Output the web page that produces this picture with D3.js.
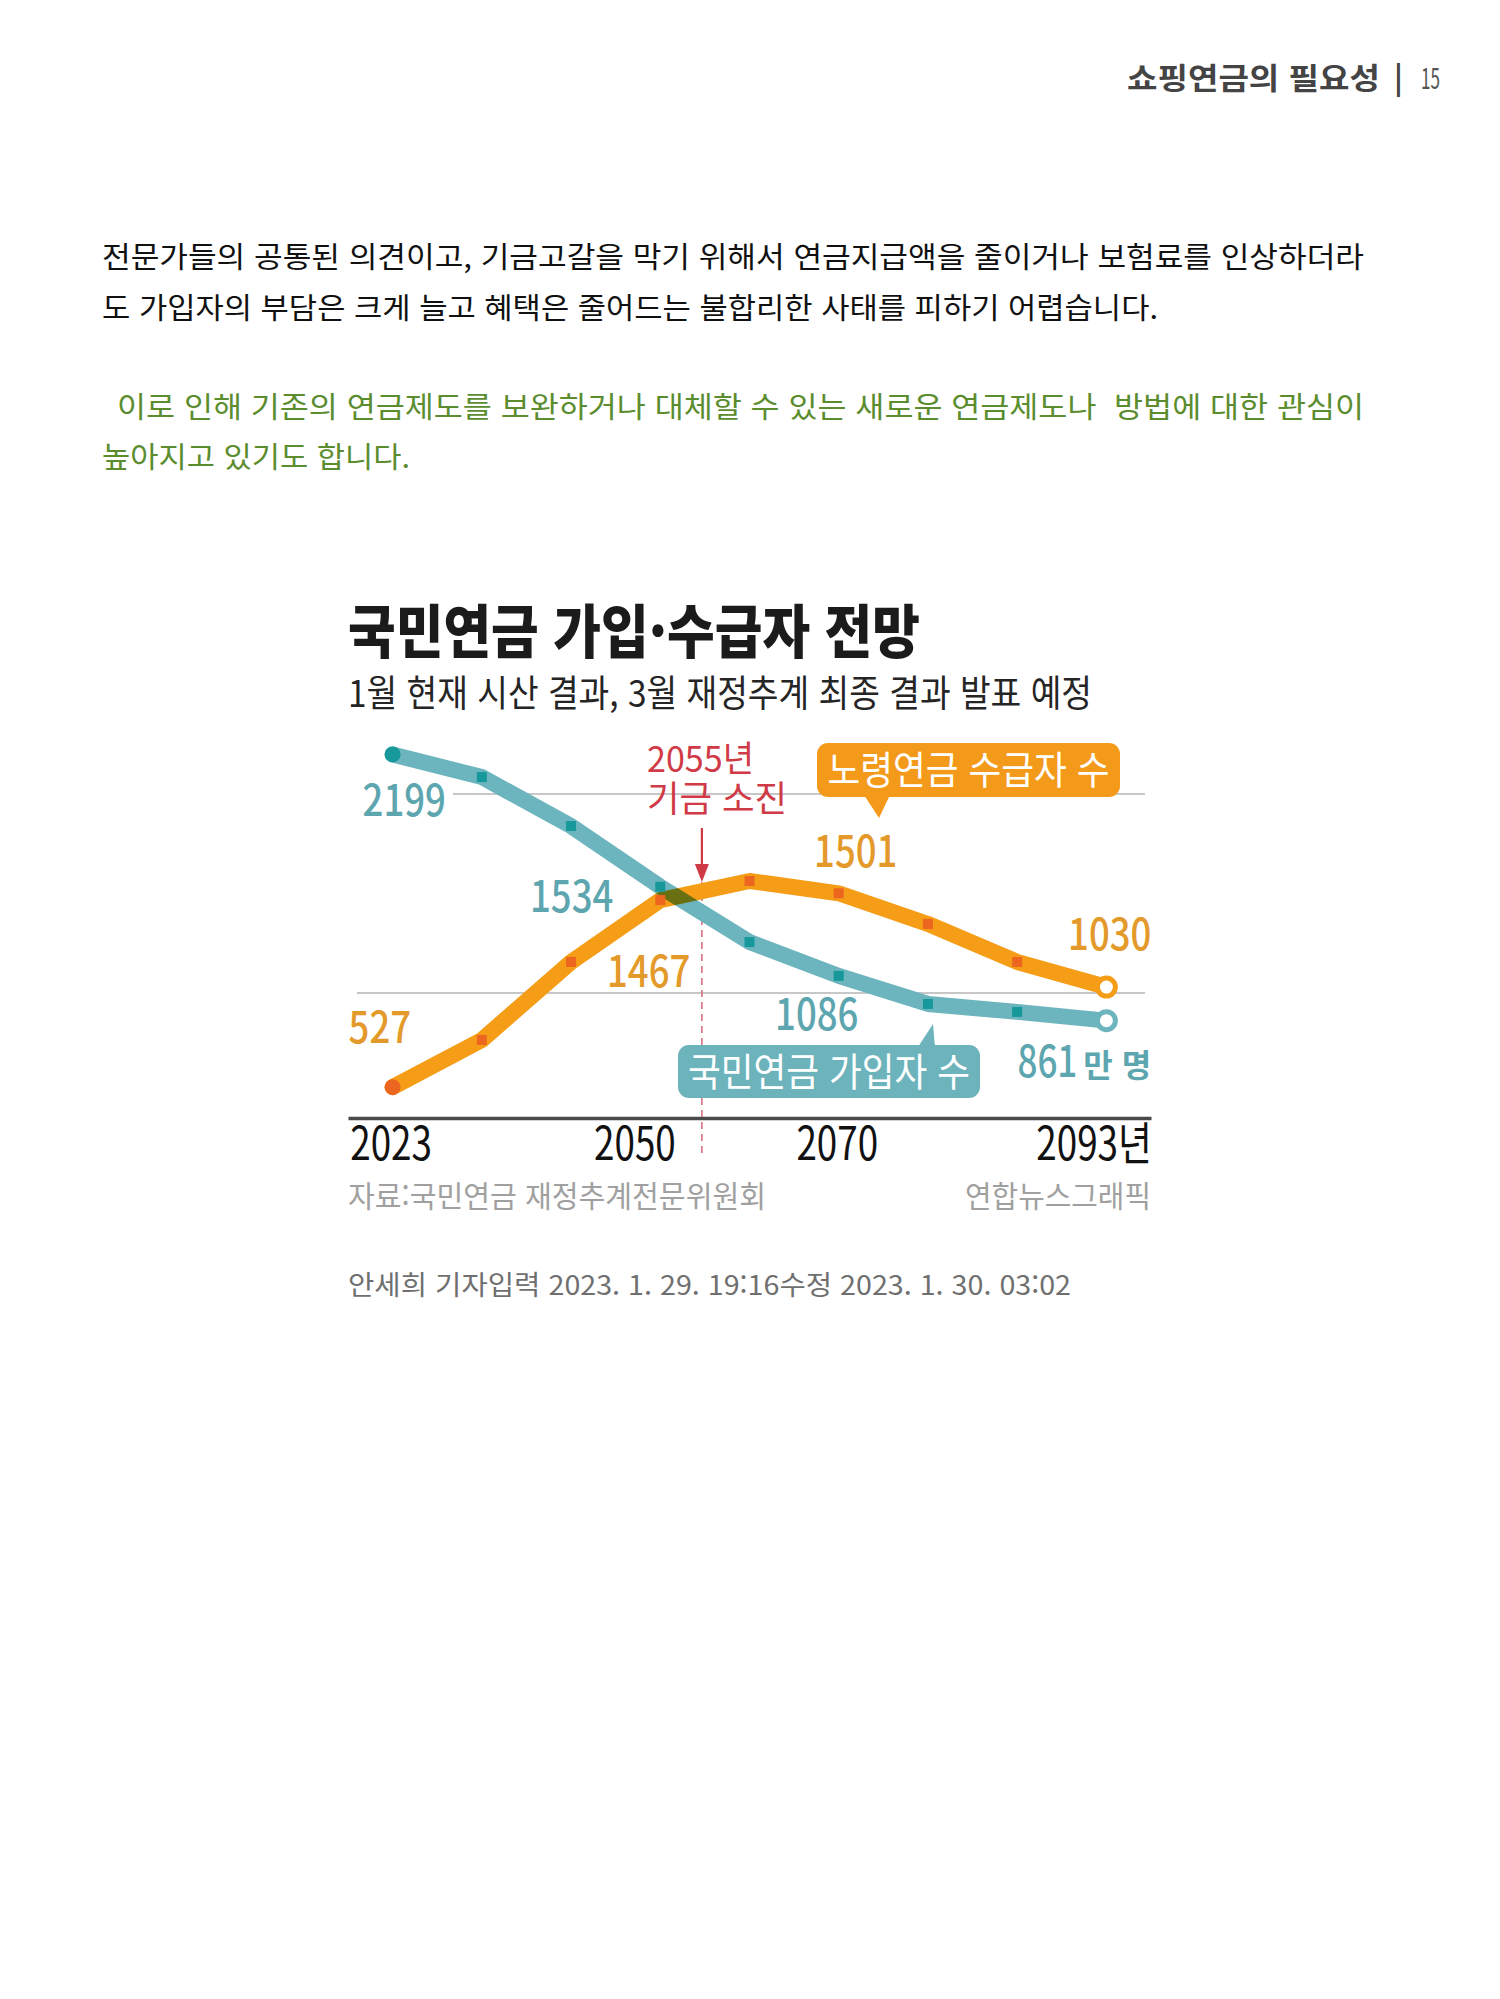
<!DOCTYPE html>
<html lang="ko">
<head>
<meta charset="utf-8">
<script src="https://cdn.jsdelivr.net/npm/d3@7/dist/d3.min.js"></script>
<style>
  html, body { margin: 0; padding: 0; background: #fff; }
  svg { display: block; }
  text { font-family: 'Noto Sans CJK KR', 'Noto Sans', sans-serif; white-space: pre; }
</style>
</head>
<body>
<div id="page"></div>
<script>
// values (unit: 만 명)
const years = ["2023", "2030", "2040", "2050", "2060", "2070", "2080", "2090", "2093"];
const subscribers = [2199, 2085, 1839, 1534, 1256, 1086, 945, 905, 861];   // 국민연금 가입자 수
const recipients = [527, 764, 1156, 1467, 1563, 1501, 1347, 1156, 1030];  // 노령연금 수급자 수
const tickYears = ["2023", "2050", "2070", "2093"];
const gridValues = [1000, 2000];
const depletion = ["2050", "2060"]; // 2055 sits halfway between these two points

const teal = "#6db5be", tealDark = "#17999b", tealText = "#5ea6af";
const orange = "#f59d17", orangeDark = "#ec6620", orangeText = "#e39a2a";
const red = "#d03a46";

const svg = d3.select("#page")
    .append("svg")
        .attr("width", 1500)
        .attr("height", 1999);

svg.append("rect")
    .attr("width", 1500)
    .attr("height", 1999)
    .attr("fill", "#fff");

// stretch/squeeze a text to a given width
function fit(sel, w) {
    return sel.attr("textLength", w).attr("lengthAdjust", "spacingAndGlyphs");
}
function squeeze(sel, k) {
    sel.each(function() {
        const l = this.getComputedTextLength();
        d3.select(this).attr("textLength", l * k).attr("lengthAdjust", "spacingAndGlyphs");
    });
    return sel;
}
function addText(x, y, txt, size, weight, color) {
    return svg.append("text")
        .attr("x", x)
        .attr("y", y)
        .style("font-size", size + "px")
        .style("font-weight", weight)
        .style("fill", color)
        .text(txt);
}

// ---- page header
fit(addText(1127, 89, "쇼핑연금의 필요성", 30, 700, "#444"), 253);
addText(1394, 89, "|", 30, 700, "#444");
fit(addText(1421, 89, "15", 29, 400, "#555"), 19);

// ---- body text
fit(addText(102, 268, "전문가들의 공통된 의견이고, 기금고갈을 막기 위해서 연금지급액을 줄이거나 보험료를 인상하더라", 29, 400, "#111"), 1262);
fit(addText(102, 319, "도 가입자의 부담은 크게 늘고 혜택은 줄어드는 불합리한 사태를 피하기 어렵습니다.", 29, 400, "#111"), 1056);
fit(addText(117, 418, "이로 인해 기존의 연금제도를 보완하거나 대체할 수 있는 새로운 연금제도나  방법에 대한 관심이", 29, 400, "#5b8d2f"), 1247);
fit(addText(102, 468, "높아지고 있기도 합니다.", 29, 400, "#5b8d2f"), 308);

// ---- chart title
fit(addText(348, 653, "국민연금 가입·수급자 전망", 58, 900, "#1b1b1b"), 572);
fit(addText(348, 707, "1월 현재 시산 결과, 3월 재정추계 최종 결과 발표 예정", 37, 400, "#252525"), 744);

// ---- scales
const x = d3.scalePoint()
    .domain(years)
    .range([348, 1151])
    .padding(0.5);

const y = d3.scaleLinear()
    .domain([1000, 2000])
    .range([993, 794]);

const g = svg.append("g");

// gridlines
const gridStart = {1000: 357, 2000: 453};
g.selectAll(".grid")
    .data(gridValues)
    .join("line")
        .attr("class", "grid")
        .attr("x1", d => gridStart[d])
        .attr("x2", 1145)
        .attr("y1", d => y(d))
        .attr("y2", d => y(d))
        .attr("stroke", "#b5b5b5")
        .attr("stroke-width", 1.5);

// x axis
const xAxis = g.append("g")
    .attr("transform", "translate(0,1118)")
    .call(d3.axisBottom(x)
        .tickValues(tickYears)
        .tickSize(0)
        .tickSizeOuter(0)
        .tickPadding(9)
        .tickFormat(d => d === "2093" ? d + "년" : d));

xAxis.select(".domain")
    .attr("stroke", "#4a4a4a")
    .attr("stroke-width", 3.5);

xAxis.selectAll(".tick text")
    .style("font-family", "'Noto Sans CJK KR', sans-serif")
    .style("font-size", "46px")
    .style("fill", "#111")
    .attr("text-anchor", d => d === "2050" || d === "2093" ? "end" : "middle")
    .attr("dx", d => d === "2050" ? 15 : d === "2093" ? 45 : -2);
squeeze(xAxis.selectAll(".tick text"), 0.8);

// 2055 fund depletion marker
const xDep = (x(depletion[0]) + x(depletion[1])) / 2 - 3;
g.append("line")
    .attr("x1", xDep).attr("x2", xDep)
    .attr("y1", 882).attr("y2", 1155)
    .attr("stroke", "#d9707e")
    .attr("stroke-width", 1.6)
    .attr("stroke-dasharray", "7,5");

// lines
const line = d3.line()
    .x((d, i) => x(years[i]))
    .y(d => y(d));

const lines = g.append("g").style("isolation", "isolate");
lines.append("path")
    .datum(recipients)
    .attr("d", line)
    .attr("fill", "none")
    .attr("stroke", orange)
    .attr("stroke-width", 16)
    .attr("stroke-linejoin", "round")
    .attr("stroke-linecap", "round");
lines.append("path")
    .datum(subscribers)
    .attr("d", line)
    .attr("fill", "none")
    .attr("stroke", teal)
    .attr("stroke-width", 16)
    .attr("stroke-linejoin", "round")
    .attr("stroke-linecap", "round")
    .style("mix-blend-mode", "multiply");

// markers
[[recipients, orange, orangeDark], [subscribers, teal, tealDark]].forEach(([vals, light, dark]) => {
    const last = vals.length - 1;
    g.selectAll(null)
        .data(vals.slice(1, last))
        .join("rect")
            .attr("x", (d, i) => x(years[i + 1]) - 5)
            .attr("y", d => y(d) - 5)
            .attr("width", 10)
            .attr("height", 10)
            .attr("fill", dark);
    g.append("circle")
        .attr("cx", x(years[0]))
        .attr("cy", y(vals[0]))
        .attr("r", 8)
        .attr("fill", dark);
    g.append("circle")
        .attr("cx", x(years[last]))
        .attr("cy", y(vals[last]))
        .attr("r", 9)
        .attr("fill", "#fff")
        .attr("stroke", light)
        .attr("stroke-width", 5);
});

// value labels
const labelAt = (vals, yr, dx, dy, anchor, color) => {
    const i = years.indexOf(yr);
    return squeeze(g.append("text")
        .attr("x", x(yr) + dx)
        .attr("y", y(vals[i]) + dy)
        .attr("text-anchor", anchor)
        .style("font-size", "44px")
        .style("font-weight", 500)
        .style("fill", color)
        .text(vals[i]), 0.83);
};
labelAt(subscribers, "2023", -30, 62, "start", tealText);
labelAt(subscribers, "2050", -47, 25, "end", tealText);
labelAt(subscribers, "2070", -22, 54, "middle", tealText);
labelAt(recipients, "2023", -44, -44, "start", orangeText);
labelAt(recipients, "2050", 30, 87, "end", orangeText);
labelAt(recipients, "2070", 17, -26, "middle", orangeText);
labelAt(recipients, "2093", 45, -37, "end", orangeText);

// last subscriber value with unit, one text with two runs
const lastSub = subscribers[subscribers.length - 1];
const lastX = x(years[years.length - 1]), lastY = y(lastSub);
const lastLabel = g.append("text")
    .attr("x", lastX - 89)
    .attr("y", lastY + 56)
    .style("font-weight", 500)
    .style("fill", tealText);
lastLabel.append("tspan")
    .style("font-size", "44px")
    .attr("textLength", 60)
    .attr("lengthAdjust", "spacingAndGlyphs")
    .text(lastSub);
lastLabel.append("tspan")
    .attr("dx", 6)
    .style("font-size", "32px")
    .style("font-weight", 700)
    .attr("textLength", 68)
    .attr("lengthAdjust", "spacingAndGlyphs")
    .text("만 명");

// red annotation, two lines in one text
const note = g.append("text")
    .style("font-size", "36px")
    .style("fill", red);
note.append("tspan")
    .attr("x", 647).attr("y", 772)
    .attr("textLength", 107)
    .attr("lengthAdjust", "spacingAndGlyphs")
    .text("2055년");
note.append("tspan")
    .attr("x", 647).attr("y", 812)
    .attr("textLength", 140)
    .attr("lengthAdjust", "spacingAndGlyphs")
    .text("기금 소진");
g.append("line")
    .attr("x1", xDep).attr("x2", xDep)
    .attr("y1", 828).attr("y2", 866)
    .attr("stroke", red)
    .attr("stroke-width", 2.2);
g.append("path")
    .attr("d", `M${xDep - 7},864 L${xDep + 7},864 L${xDep},882 Z`)
    .attr("fill", red);

// callout bubbles
function bubble(x0, y0, w, h, tail, fill, label) {
    const b = g.append("g");
    b.append("rect")
        .attr("x", x0).attr("y", y0)
        .attr("width", w).attr("height", h)
        .attr("rx", 11)
        .attr("fill", fill);
    b.append("path")
        .attr("d", tail)
        .attr("fill", fill);
    fit(b.append("text")
        .attr("x", x0 + w / 2)
        .attr("y", y0 + h / 2 + 14)
        .attr("text-anchor", "middle")
        .style("font-size", "39px")
        .style("fill", "#fff")
        .text(label), 282);
}
bubble(817, 743, 303, 54, "M864,795 L890,795 L879,818 Z", "#f39a1b", "노령연금 수급자 수");
bubble(678, 1045, 302, 53, "M918,1047 L935,1047 L933,1024 Z", "#6cb3bc", "국민연금 가입자 수");

// source and credit
fit(addText(348, 1207, "자료:국민연금 재정추계전문위원회", 30, 400, "#a0a0a0"), 418);
fit(addText(965, 1207, "연합뉴스그래픽", 30, 400, "#a0a0a0"), 186);

// caption under the graphic
fit(addText(348, 1295, "안세희 기자입력 2023. 1. 29. 19:16수정 2023. 1. 30. 03:02", 27, 400, "#6f6f6f"), 723);
</script>
</body>
</html>
